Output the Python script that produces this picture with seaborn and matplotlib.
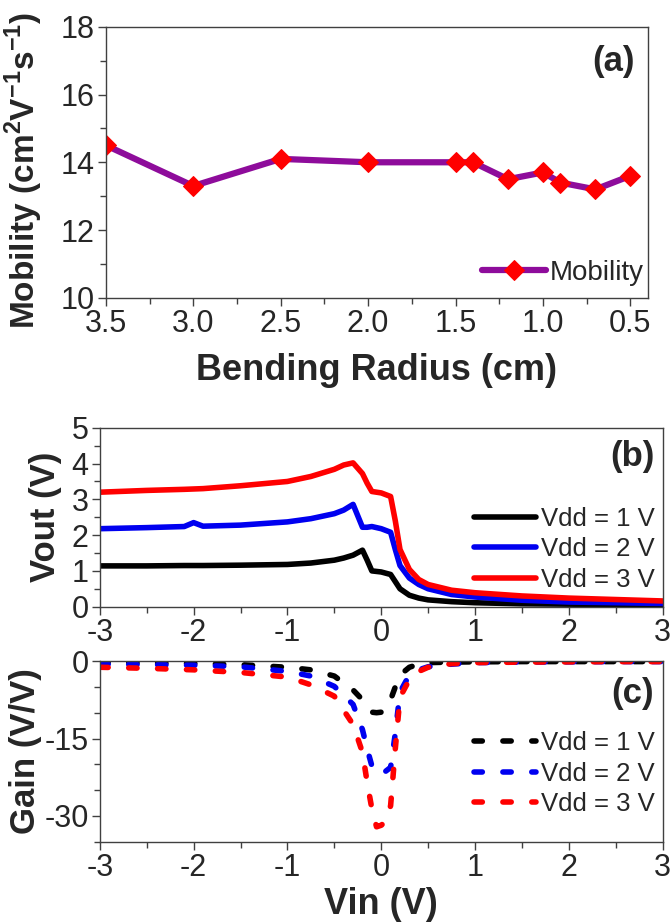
import numpy as np
import pandas as pd
import matplotlib
matplotlib.use("Agg")
import matplotlib.pyplot as plt
from matplotlib.ticker import MultipleLocator
import seaborn as sns

# ── Data ────────────────────────────────────────────────────────────────────
BEND_RADIUS = [3.5, 3.0, 2.5, 2.0, 1.5, 1.4, 1.2, 1.0, 0.9, 0.7, 0.5]
MOBILITY    = [14.5, 13.3, 14.1, 14.0, 14.0, 14.0, 13.5, 13.7, 13.4, 13.2, 13.6]

VIN_OUT = [-3.0, -2.5, -2.1, -2.0, -1.9, -1.5, -1.0, -0.75, -0.5, -0.4, -0.3,
           -0.2, -0.15, -0.1, 0.0, 0.1, 0.15, 0.2, 0.3, 0.4, 0.5, 0.75, 1.0,
           1.5, 2.0, 2.5, 3.0]
VOUT_1V = [1.14, 1.14, 1.15, 1.15, 1.15, 1.16, 1.18, 1.22, 1.30, 1.36, 1.44,
           1.58, 1.30, 1.00, 0.97, 0.90, 0.70, 0.50, 0.32, 0.24, 0.19, 0.14,
           0.11, 0.08, 0.07, 0.06, 0.05]
VOUT_2V = [2.18, 2.21, 2.24, 2.35, 2.25, 2.28, 2.37, 2.46, 2.60, 2.70, 2.86,
           2.22, 2.22, 2.24, 2.18, 2.08, 1.60, 1.15, 0.80, 0.62, 0.50, 0.34,
           0.27, 0.18, 0.13, 0.11, 0.09]
VOUT_3V = [3.20, 3.25, 3.28, 3.29, 3.30, 3.38, 3.50, 3.64, 3.84, 3.96, 4.02,
           3.72, 3.45, 3.22, 3.18, 3.08, 2.40, 1.60, 1.04, 0.76, 0.62, 0.46,
           0.39, 0.30, 0.24, 0.20, 0.16]

VIN_GAIN = [-3.0, -2.5, -2.0, -1.5, -1.0, -0.75, -0.5, -0.3, -0.2, -0.15, -0.1,
            -0.05, 0.0, 0.05, 0.1, 0.15, 0.2, 0.3, 0.4, 0.5, 0.75, 1.0, 1.5,
            2.0, 2.5, 3.0]
GAIN_1V = [-0.3, -0.35, -0.45, -0.7, -1.2, -1.7, -2.9, -5.6, -7.5, -8.7, -9.9,
           -10.0, -9.9, -9.3, -7.5, -5.0, -2.7, -1.2, -0.6, -0.3, -0.2, -0.15,
           -0.1, -0.1, -0.1, -0.1]
GAIN_2V = [-0.6, -0.7, -0.8, -1.1, -2.0, -2.9, -4.9, -8.4, -13.3, -17.0, -20.3,
           -21.5, -22.0, -21.3, -20.6, -14.0, -6.0, -2.7, -1.7, -1.1, -0.6, -0.3,
           -0.2, -0.15, -0.1, -0.1]
GAIN_3V = [-1.2, -1.4, -1.7, -2.2, -3.1, -4.6, -6.8, -12.3, -17.7, -23.5, -28.6,
           -32.1, -31.8, -31.0, -28.0, -17.0, -7.0, -3.6, -2.0, -1.2, -0.5, -0.3,
           -0.2, -0.15, -0.1, -0.1]

VDD_LABELS = ["Vdd = 1 V", "Vdd = 2 V", "Vdd = 3 V"]
VDD_COLORS = ["#000000", "#0000F0", "#FF0000"]

# ── Style ───────────────────────────────────────────────────────────────────
sns.set_style("ticks")
plt.rcParams["font.family"] = ["Liberation Sans", "DejaVu Sans"]
plt.rcParams["axes.unicode_minus"] = False
plt.rcParams["mathtext.fontset"] = "custom"
plt.rcParams["mathtext.rm"] = "Liberation Sans"
plt.rcParams["mathtext.bf"] = "Liberation Sans:bold"

SPINE = "#404040"
TICK_FS = 22
LABEL_FS = 25
LEG_FS = 18.5
DASH = (0, (1.5, 3.7))


def style_axes(ax):
    for s in ax.spines.values():
        s.set_color(SPINE)
        s.set_linewidth(1.0)
    ax.tick_params(which="major", direction="out", length=6, width=1.0,
                   color=SPINE, labelsize=TICK_FS, pad=2,
                   top=False, right=False)
    ax.tick_params(which="minor", direction="out", length=4, width=1.0,
                   color=SPINE, top=False, right=False)


def vdd_legend(ax, anchor_y):
    ax.legend(loc="lower right", bbox_to_anchor=(1.0, anchor_y), frameon=False,
              fontsize=LEG_FS, handlelength=2.4, handletextpad=0.2,
              labelspacing=0.25, borderpad=0.2, borderaxespad=0.1)


fig = plt.figure(figsize=(6.7, 9.22), dpi=100)

# ── (a) mobility vs bending radius ─────────────────────────────────────────
ax_a = fig.add_axes([0.158, 0.677, 0.809, 0.294])
df_a = pd.DataFrame({"radius": BEND_RADIUS, "mobility": MOBILITY})
sns.lineplot(data=df_a, x="radius", y="mobility", ax=ax_a, color="#8E0C9B",
             lw=4.5, marker="D", markersize=10, markerfacecolor="#FF0000",
             markeredgecolor="#FF0000", label="Mobility")
ax_a.set_xlim(3.5, 0.4)
ax_a.set_ylim(10, 18)
ax_a.xaxis.set_minor_locator(MultipleLocator(0.25))
ax_a.yaxis.set_major_locator(MultipleLocator(2))
ax_a.yaxis.set_minor_locator(MultipleLocator(1))
ax_a.set_xticks([3.5, 3.0, 2.5, 2.0, 1.5, 1.0, 0.5])
ax_a.set_xlabel("Bending Radius (cm)", fontsize=LABEL_FS + 1,
                fontweight="bold", labelpad=10)
ax_a.set_ylabel(r"Mobility (cm$^\mathbf{2}$V$^\mathbf{-1}$s$^\mathbf{-1}$)",
                fontsize=LABEL_FS - 1, fontweight="bold")
ax_a.yaxis.set_label_coords(-0.112, 0.47)
ax_a.legend(loc="lower right", bbox_to_anchor=(1.0, 0.03), frameon=False,
            fontsize=20, handlelength=2.3, handletextpad=0.15, borderpad=0.15,
            borderaxespad=0.0)
ax_a.text(0.975, 0.871, "(a)", transform=ax_a.transAxes, ha="right",
          va="center", fontsize=LABEL_FS, fontweight="bold")
style_axes(ax_a)

# ── (b) Vout vs Vin ────────────────────────────────────────────────────────
ax_b = fig.add_axes([0.149, 0.342, 0.840, 0.194])
for lab, col, vals in zip(VDD_LABELS, VDD_COLORS, [VOUT_1V, VOUT_2V, VOUT_3V]):
    sns.lineplot(x=VIN_OUT, y=vals, ax=ax_b, color=col, lw=4.0, label=lab)
ax_b.set_xlim(-3, 3)
ax_b.set_ylim(0, 5)
ax_b.xaxis.set_major_locator(MultipleLocator(1))
ax_b.xaxis.set_minor_locator(MultipleLocator(0.5))
ax_b.yaxis.set_major_locator(MultipleLocator(1))
ax_b.yaxis.set_minor_locator(MultipleLocator(0.5))
ax_b.set_ylabel("Vout (V)", fontsize=LABEL_FS, fontweight="bold", labelpad=7)
vdd_legend(ax_b, 0.04)
ax_b.text(0.985, 0.838, "(b)", transform=ax_b.transAxes, ha="right",
          va="center", fontsize=LABEL_FS, fontweight="bold")
style_axes(ax_b)

# ── (c) gain vs Vin ────────────────────────────────────────────────────────
ax_c = fig.add_axes([0.149, 0.087, 0.840, 0.196])
for lab, col, vals in zip(VDD_LABELS, VDD_COLORS, [GAIN_1V, GAIN_2V, GAIN_3V]):
    sns.lineplot(x=VIN_GAIN, y=vals, ax=ax_c, color=col, lw=4.0, label=lab,
                 linestyle=DASH, dash_capstyle="round")
ax_c.set_xlim(-3, 3)
ax_c.set_ylim(-35, 0)
ax_c.xaxis.set_major_locator(MultipleLocator(1))
ax_c.xaxis.set_minor_locator(MultipleLocator(0.5))
ax_c.yaxis.set_major_locator(MultipleLocator(15))
ax_c.yaxis.set_minor_locator(MultipleLocator(5))
ax_c.set_xlabel("Vin (V)", fontsize=LABEL_FS + 1, fontweight="bold",
                labelpad=3)
ax_c.set_ylabel("Gain (V/V)", fontsize=LABEL_FS, fontweight="bold",
                labelpad=2)
vdd_legend(ax_c, 0.10)
ax_c.text(0.985, 0.82, "(c)", transform=ax_c.transAxes, ha="right",
          va="center", fontsize=LABEL_FS, fontweight="bold")
style_axes(ax_c)

fig.savefig("out.png", dpi=100)
plt.close(fig)
